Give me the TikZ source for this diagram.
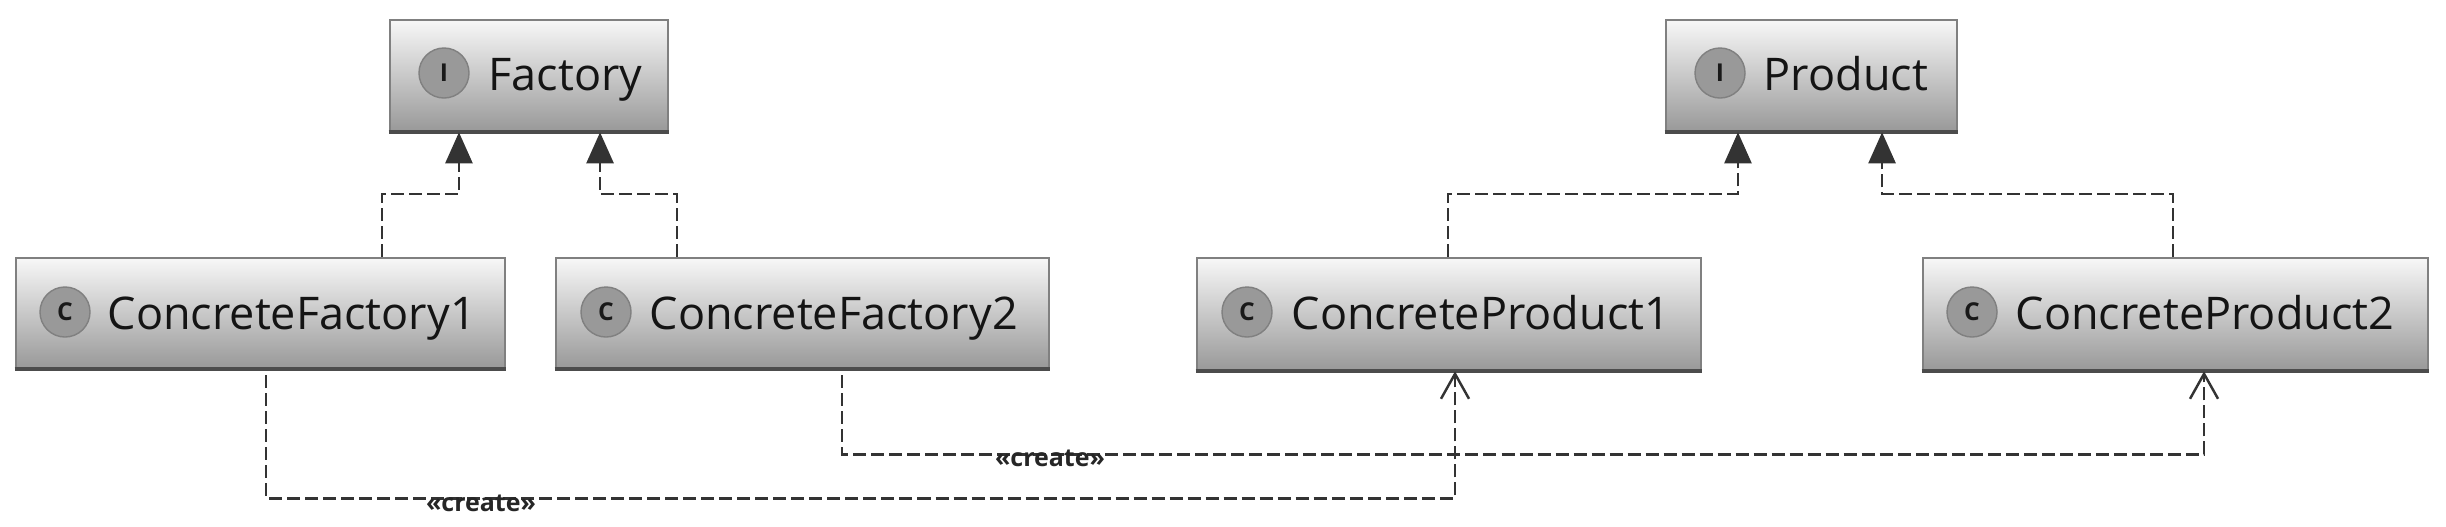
\documentclass[tikz,border=0pt]{standalone}
\usepackage{fontspec}
\setmainfont{Open Sans}
\usetikzlibrary{arrows.meta,positioning}
\tikzset{
  umlbox/.style={draw=black!50, line width=0.7pt, top color=black!3, bottom color=black!40, inner sep=0},
  umlbase/.style={black!70, line width=1.1pt},
  umlname/.style={anchor=base west, inner sep=0, text=black!92, font=\fontsize{12.8}{14}\selectfont},
  umlicon/.style={circle, draw=black!50, fill=black!40, minimum size=0.5cm, inner sep=0, text=black!90, font=\bfseries\fontsize{7}{8}\selectfont},
  realizes/.style={black!80, line width=0.7pt, dash pattern=on 0.13cm off 0.05cm, -{Triangle[length=0.31cm,width=0.27cm,black!80]}},
  creates/.style={black!80, line width=0.7pt, dash pattern=on 0.13cm off 0.05cm, -{Straight Barb[length=0.25cm,width=0.28cm,black!80]}},
  stereo/.style={inner sep=0, text=black!85, font=\bfseries\fontsize{7.1}{8}\selectfont}
}
\begin{document}
\begin{tikzpicture}[x=0.01cm, y=-0.01cm]

  \useasboundingbox (0,0) rectangle (2446,526);

  % Interfaces
  \node[umlbox, minimum width=2.78cm, minimum height=1.11cm] (factory) at (529,75.5) {};
  \node[umlbox, minimum width=2.91cm, minimum height=1.11cm] (product) at (1811.5,75.5) {};
  \draw[umlbase] (factory.south west) -- (factory.south east);
  \draw[umlbase] (product.south west) -- (product.south east);
  \node[umlicon] (ifactory) at (444,73) {I};
  \node[umlicon] (iproduct) at (1720,73) {I};
  \node[umlname] (nfactory) at (488,90) {Factory};
  \node[umlname] (nproduct) at (1763,90) {Product};

  % Classes
  \node[umlbox, minimum width=4.89cm, minimum height=1.10cm] (cfactory1) at (260.5,313) {};
  \node[umlbox, minimum width=4.93cm, minimum height=1.10cm] (cfactory2) at (802.5,313) {};
  \node[umlbox, minimum width=5.04cm, minimum height=1.12cm] (cproduct1) at (1449,314) {};
  \node[umlbox, minimum width=5.05cm, minimum height=1.12cm] (cproduct2) at (2175.5,314) {};
  \draw[umlbase] (cfactory1.south west) -- (cfactory1.south east);
  \draw[umlbase] (cfactory2.south west) -- (cfactory2.south east);
  \draw[umlbase] (cproduct1.south west) -- (cproduct1.south east);
  \draw[umlbase] (cproduct2.south west) -- (cproduct2.south east);
  \node[umlicon] (icfactory1) at (65,312) {C};
  \node[umlicon] (icfactory2) at (606,312) {C};
  \node[umlicon] (icproduct1) at (1247,312) {C};
  \node[umlicon] (icproduct2) at (1972,312) {C};
  \node[umlname] (ncfactory1) at (107,329) {ConcreteFactory1};
  \node[umlname] (ncfactory2) at (649,329) {ConcreteFactory2};
  \node[umlname] (ncproduct1) at (1291,329) {ConcreteProduct1};
  \node[umlname] (ncproduct2) at (2015,329) {ConcreteProduct2};

  % Realizations
  \draw[realizes] ([xshift=1.215cm]cfactory1.north) -- ++(0,-63) -| ([xshift=-0.70cm]factory.south);
  \draw[realizes] ([xshift=-1.255cm]cfactory2.north) -- ++(0,-63) -| ([xshift=0.71cm]factory.south);
  \draw[realizes] ([xshift=-0.01cm]cproduct1.north) -- ++(0,-63) -| ([xshift=-0.735cm]product.south);
  \draw[realizes] ([xshift=-0.025cm]cproduct2.north) -- ++(0,-63) -| ([xshift=0.705cm]product.south);

  % Dependencies
  \draw[creates] ([xshift=0.055cm, yshift=-0.06cm]cfactory1.south) -- ++(0,123) -| ([xshift=0.06cm]cproduct1.south);
  \draw[creates] ([xshift=0.395cm, yshift=-0.06cm]cfactory2.south) -- ++(0,79) -| ([xshift=0.285cm]cproduct2.south);
  \node[stereo] (create1) at (481,503) {«create»};
  \node[stereo] (create2) at (1050,458) {«create»};

\end{tikzpicture}
\end{document}
